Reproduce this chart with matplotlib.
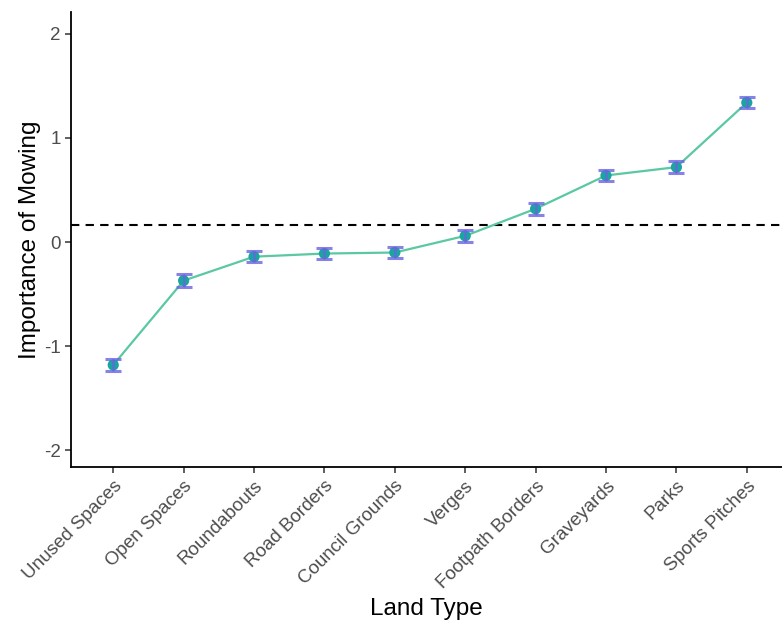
import matplotlib
matplotlib.use('Agg')
import matplotlib.pyplot as plt

land_types = ['Unused Spaces', 'Open Spaces', 'Roundabouts', 'Road Borders', 'Council Grounds',
              'Verges', 'Footpath Borders', 'Graveyards', 'Parks', 'Sports Pitches']
importance = [-1.18, -0.37, -0.14, -0.11, -0.10, 0.06, 0.32, 0.64, 0.72, 1.34]
err = [0.06, 0.06, 0.055, 0.055, 0.055, 0.055, 0.055, 0.055, 0.055, 0.055]
ref_line = 0.16
yticks = [-2, -1, 0, 1, 2]

plt.rcParams['font.family'] = ['Liberation Sans', 'DejaVu Sans']

fig = plt.figure(figsize=(7.82, 6.28), dpi=100)
ax = fig.add_axes([71 / 782, 1 - 467 / 628, 711 / 782, 455 / 628])

x = list(range(len(land_types)))
ax.axhline(ref_line, color='black', linestyle=(0, (4, 3)), linewidth=1.5, zorder=1)
ax.plot(x, importance, color='#5ac8a0', linewidth=1.6, zorder=2)
ax.scatter(x, importance, s=65, color='#1aa5a0', zorder=3, edgecolors='none')
ax.errorbar(x, importance, yerr=err, fmt='none', ecolor='#6b63e0', elinewidth=1.8,
            capsize=6, capthick=2.2, alpha=0.8, zorder=4)

ax.set_xlim(-0.6, 9.5)
ax.set_ylim(-2.16, 2.21)
ax.set_yticks(yticks)
ax.set_yticklabels([str(v) for v in yticks])
ax.set_xticks(x)
ax.set_xticklabels(land_types, rotation=45, ha='right', rotation_mode='anchor')

for s in ['top', 'right']:
    ax.spines[s].set_visible(False)
for s in ['left', 'bottom']:
    ax.spines[s].set_linewidth(1.3)
ax.tick_params(axis='both', labelsize=13.5, labelcolor='#4d4d4d', length=4, width=1.1, color='#333333')

ax.set_xlabel('Land Type', fontsize=17.5, labelpad=5)
ax.set_ylabel('Importance of Mowing', fontsize=17.5, labelpad=2)

fig.savefig('out.png', dpi=100)
